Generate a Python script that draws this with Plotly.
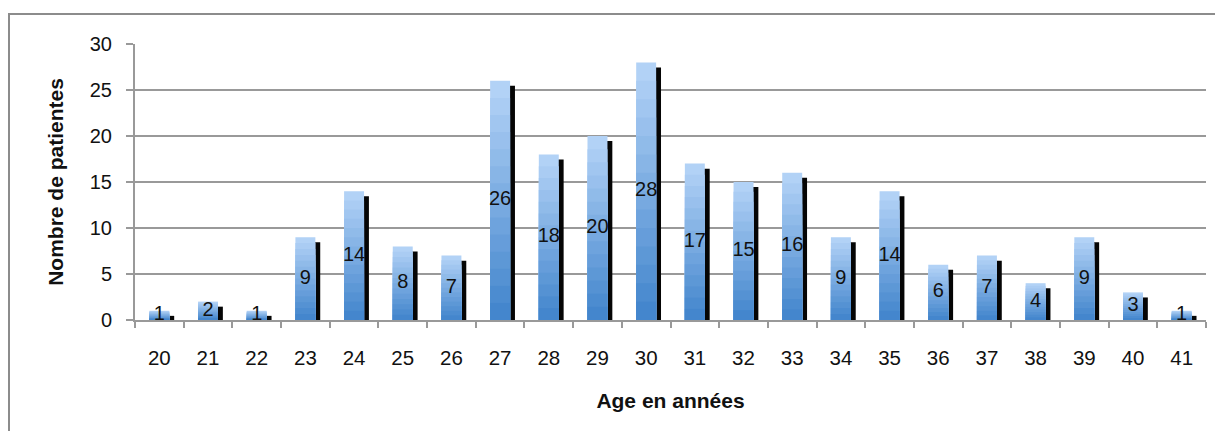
import plotly.graph_objects as go

ages = [str(a) for a in range(20, 42)]
counts = [1, 2, 1, 9, 14, 8, 7, 26, 18, 20, 28, 17, 15, 16, 9, 14, 6, 7, 4, 9, 3, 1]
y_ticks = [0, 5, 10, 15, 20, 25, 30]

x_title = "Age en années"
y_title = "Nombre de patientes"

FONT = "Liberation Sans, Arial, sans-serif"
top_col = (178, 210, 246)
bot_col = (68, 134, 205)
N = 14
BW = 0.41

# page body has an 8px margin; figure coordinates = page coordinates - 8
OFF = 8
W, H = 1207, 423
L = 135 - OFF
T = 44 - OFF
PR = 1206 - OFF
PB = 320 - OFF
PW = PR - L
PH = PB - T

fig = go.Figure()

# shadow bars
fig.add_trace(go.Bar(
    x=ages, y=[max(c - 0.55, 0) for c in counts],
    width=BW, offset=-BW / 2 + 0.1,
    marker=dict(color="#050505", line=dict(width=0)),
    hoverinfo="skip", showlegend=False,
))

# gradient bars (layered)
for i in range(N):
    t = i / (N - 1)
    col = tuple(round(top_col[k] + (bot_col[k] - top_col[k]) * t) for k in range(3))
    frac = (N - i) / N
    fig.add_trace(go.Bar(
        x=ages, y=[c * frac for c in counts],
        width=BW, offset=-BW / 2,
        marker=dict(color="rgb(%d,%d,%d)" % col, line=dict(width=0)),
        hoverinfo="skip", showlegend=False,
    ))

# labels
fig.add_trace(go.Scatter(
    x=ages, y=[c / 2 for c in counts], mode="text",
    text=[str(c) for c in counts],
    textfont=dict(family=FONT, size=20, color="#111111"),
    hoverinfo="skip", showlegend=False,
))

fig.update_layout(
    width=W, height=H,
    margin=dict(l=L, r=W - PR, t=T, b=H - PB, pad=0),
    paper_bgcolor="white", plot_bgcolor="white",
    barmode="overlay",
    font=dict(family=FONT, size=20, color="#111111"),
    xaxis=dict(
        type="category", tickson="boundaries",
        ticks="outside", ticklen=6, tickcolor="#999999", tickwidth=2,
        showgrid=False, showline=True, linecolor="#999999", linewidth=2,
        tickfont=dict(size=20.5), ticklabelstandoff=18,
        title=dict(text="<b>" + x_title + "</b>", font=dict(size=21), standoff=26),
        range=[-0.5, len(ages) - 0.5],
    ),
    yaxis=dict(
        range=[0, 30], tickvals=y_ticks,
        ticks="outside", ticklen=7, tickcolor="#999999", tickwidth=2,
        showgrid=True, gridcolor="#999999", gridwidth=2,
        showline=True, linecolor="#999999", linewidth=2, zeroline=False,
        tickfont=dict(size=20), ticklabelstandoff=10,
        title=dict(text="<b>" + y_title + "</b>", font=dict(size=21), standoff=20),
    ),
    shapes=[dict(
        type="rect", xref="paper", yref="paper",
        x0=(9 - OFF - L) / PW, x1=(1240 - L) / PW,
        y0=(PB - 460) / PH, y1=(PB - (14 - OFF)) / PH,
        line=dict(color="#8c8c8c", width=2), fillcolor="rgba(0,0,0,0)", layer="below",
    )],
)

fig.write_html("out.html")
